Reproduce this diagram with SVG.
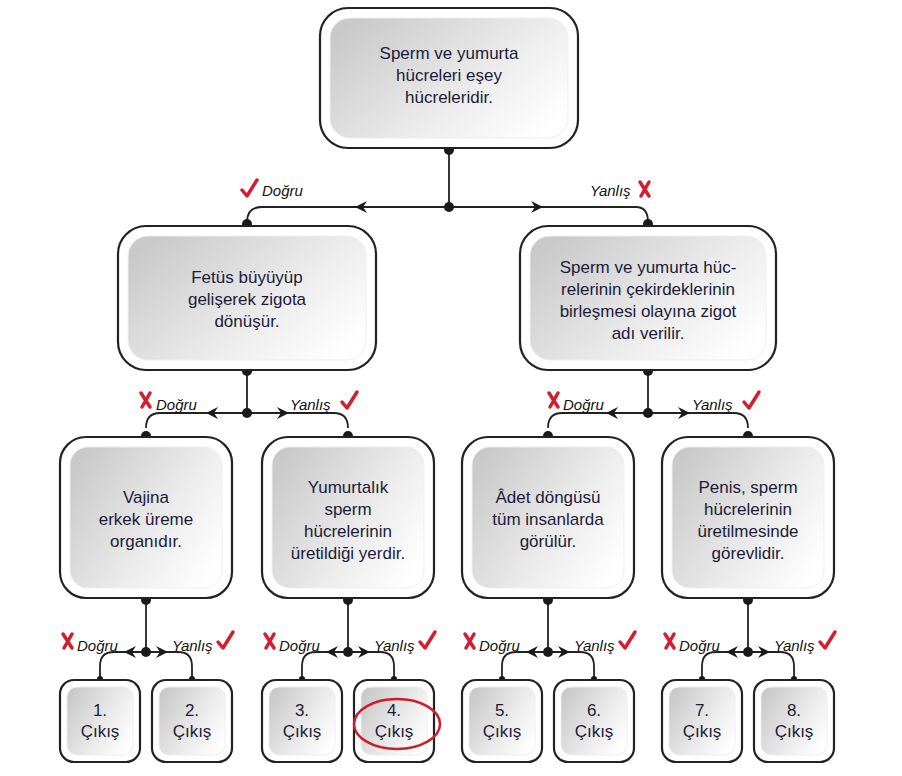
<svg xmlns="http://www.w3.org/2000/svg" width="902" height="776" viewBox="0 0 902 776">
<style>
.o{fill:#fff;stroke:#222;stroke-width:2.2}
.i{fill:url(#g);stroke:#eee;stroke-width:1}
.t{font-family:"Liberation Sans",Arial,sans-serif;font-size:17px;fill:#1c1c3a;text-anchor:middle}
.l{font-family:"Liberation Sans",Arial,sans-serif;font-size:15px;font-style:italic;fill:#111}
.c{fill:none;stroke:#222;stroke-width:1.8}
.d{fill:#1a1a1a}
.ck{fill:none;stroke:#d11f2f;stroke-width:3.5;stroke-linecap:round;stroke-linejoin:round}
</style>
<defs>
<linearGradient id="g" x1="0" y1="0.2" x2="1" y2="0.8"><stop offset="0" stop-color="#c9c9c9"/><stop offset="0.6" stop-color="#ececec"/><stop offset="1" stop-color="#fff"/></linearGradient>
<path id="ar" d="M0,0 L12,-6 L8,0 L12,6 Z" fill="#1a1a1a"/>
<path id="chk" d="M0,6 L5,12 L15,-4" class="ck"/>
<path id="crs" d="M0,-4 L9,10 M9,-4 L1,10" class="ck"/>
</defs>
<g id="connectors">
<path class="c" d="M449,150 V207 M262,207 H636 M262,207 Q247,207 247,222 M636,207 Q648,207 648,222"/>
<use href="#ar" x="355" y="207"/><use href="#ar" transform="translate(543,207) scale(-1,1)"/>
<circle class="d" cx="449" cy="150" r="5"/><circle class="d" cx="449" cy="207" r="5"/>
<circle class="d" cx="247" cy="224" r="5"/><circle class="d" cx="648" cy="224" r="5"/>
<path class="c" d="M247,372 V413 M160,413 H334 Q348,413 348,428 M160,413 Q146,413 146,428"/>
<use href="#ar" x="206" y="413"/><use href="#ar" transform="translate(289,413) scale(-1,1)"/>
<circle class="d" cx="247" cy="371" r="5"/><circle class="d" cx="247" cy="413" r="5"/>
<circle class="d" cx="146" cy="436" r="5"/><circle class="d" cx="348" cy="436" r="5"/>
<path class="c" d="M648,372 V413 M562,413 H734 Q748,413 748,428 M562,413 Q548,413 548,428"/>
<use href="#ar" x="606" y="413"/><use href="#ar" transform="translate(690,413) scale(-1,1)"/>
<circle class="d" cx="648" cy="371" r="5"/><circle class="d" cx="648" cy="413" r="5"/>
<circle class="d" cx="548" cy="436" r="5"/><circle class="d" cx="748" cy="436" r="5"/>
<g id="b1">
<path class="c" d="M146,600 V652 M114,652 H178 Q192,652 192,666 V680 M114,652 Q100,652 100,666 V680"/>
<use href="#ar" x="124" y="652"/><use href="#ar" transform="translate(168,652) scale(-1,1)"/>
<circle class="d" cx="146" cy="600" r="5"/><circle class="d" cx="146" cy="652" r="5"/>
<circle class="d" cx="100" cy="679" r="3"/><circle class="d" cx="192" cy="679" r="3"/>
</g>
<use href="#b1" x="202"/><use href="#b1" x="402"/><use href="#b1" x="602"/>
</g>
<g id="labels">
<use href="#chk" x="242" y="184"/><text class="l" x="262" y="196">Doğru</text>
<text class="l" x="590" y="196">Yanlış</text><use href="#crs" x="640" y="186"/>
<use href="#crs" x="141" y="397"/><text class="l" x="156" y="410">Doğru</text>
<text class="l" x="290" y="410">Yanlış</text><use href="#chk" x="342" y="396"/>
<use href="#crs" x="549" y="397"/><text class="l" x="563" y="410">Doğru</text>
<text class="l" x="692" y="410">Yanlış</text><use href="#chk" x="744" y="396"/>
<g id="l3">
<use href="#crs" x="63" y="638"/><text class="l" x="77" y="651">Doğru</text>
<text class="l" x="172" y="651">Yanlış</text><use href="#chk" x="218" y="636"/>
</g>
<use href="#l3" x="202"/><use href="#l3" x="402"/><use href="#l3" x="602"/>
</g>
<g id="n0"><rect class="o" x="320" y="8" width="258" height="140" rx="28"/><rect class="i" x="330" y="18" width="238" height="120" rx="20"/>
<text class="t" x="449" y="59">Sperm ve yumurta</text><text class="t" x="449" y="81">hücreleri eşey</text><text class="t" x="449" y="103">hücreleridir.</text></g>
<g id="n1"><rect class="o" x="118" y="226" width="258" height="144" rx="28"/><rect class="i" x="128" y="236" width="238" height="124" rx="20"/>
<text class="t" x="247" y="283">Fetüs büyüyüp</text><text class="t" x="247" y="305">gelişerek zigota</text><text class="t" x="247" y="327">dönüşür.</text></g>
<g id="n2"><rect class="o" x="520" y="226" width="256" height="144" rx="28"/><rect class="i" x="530" y="236" width="236" height="124" rx="20"/>
<text class="t" x="648" y="273">Sperm ve yumurta hüc-</text><text class="t" x="648" y="295">relerinin çekirdeklerinin</text><text class="t" x="648" y="317">birleşmesi olayına zigot</text><text class="t" x="648" y="339">adı verilir.</text></g>
<g id="n3"><rect class="o" x="60" y="437" width="172" height="161" rx="26"/><rect class="i" x="70" y="447" width="152" height="141" rx="18"/>
<text class="t" x="146" y="503">Vajina</text><text class="t" x="146" y="525">erkek üreme</text><text class="t" x="146" y="547">organıdır.</text></g>
<g id="n4"><rect class="o" x="262" y="437" width="172" height="161" rx="26"/><rect class="i" x="272" y="447" width="152" height="141" rx="18"/>
<text class="t" x="348" y="493">Yumurtalık</text><text class="t" x="348" y="515">sperm</text><text class="t" x="348" y="537">hücrelerinin</text><text class="t" x="348" y="559">üretildiği yerdir.</text></g>
<g id="n5"><rect class="o" x="462" y="437" width="172" height="161" rx="26"/><rect class="i" x="472" y="447" width="152" height="141" rx="18"/>
<text class="t" x="548" y="503">Âdet döngüsü</text><text class="t" x="548" y="525">tüm insanlarda</text><text class="t" x="548" y="547">görülür.</text></g>
<g id="n6"><rect class="o" x="662" y="437" width="172" height="161" rx="26"/><rect class="i" x="672" y="447" width="152" height="141" rx="18"/>
<text class="t" x="748" y="493">Penis, sperm</text><text class="t" x="748" y="515">hücrelerinin</text><text class="t" x="748" y="537">üretilmesinde</text><text class="t" x="748" y="559">görevlidir.</text></g>
<g id="e1"><rect class="o" x="60" y="680" width="80" height="82" rx="14"/><rect class="i" x="67" y="687" width="66" height="68" rx="10"/><text class="t" x="100" y="716">1.</text><text class="t" x="100" y="737">Çıkış</text></g>
<g id="e2"><rect class="o" x="152" y="680" width="80" height="82" rx="14"/><rect class="i" x="159" y="687" width="66" height="68" rx="10"/><text class="t" x="192" y="716">2.</text><text class="t" x="192" y="737">Çıkış</text></g>
<g id="e3"><rect class="o" x="262" y="680" width="80" height="82" rx="14"/><rect class="i" x="269" y="687" width="66" height="68" rx="10"/><text class="t" x="302" y="716">3.</text><text class="t" x="302" y="737">Çıkış</text></g>
<g id="e4"><rect class="o" x="354" y="680" width="80" height="82" rx="14"/><rect class="i" x="361" y="687" width="66" height="68" rx="10"/><text class="t" x="394" y="716">4.</text><text class="t" x="394" y="737">Çıkış</text>
<ellipse cx="397" cy="724" rx="43" ry="25" fill="none" stroke="#c8202c" stroke-width="2.5"/></g>
<g id="e5"><rect class="o" x="462" y="680" width="80" height="82" rx="14"/><rect class="i" x="469" y="687" width="66" height="68" rx="10"/><text class="t" x="502" y="716">5.</text><text class="t" x="502" y="737">Çıkış</text></g>
<g id="e6"><rect class="o" x="554" y="680" width="80" height="82" rx="14"/><rect class="i" x="561" y="687" width="66" height="68" rx="10"/><text class="t" x="594" y="716">6.</text><text class="t" x="594" y="737">Çıkış</text></g>
<g id="e7"><rect class="o" x="662" y="680" width="80" height="82" rx="14"/><rect class="i" x="669" y="687" width="66" height="68" rx="10"/><text class="t" x="702" y="716">7.</text><text class="t" x="702" y="737">Çıkış</text></g>
<g id="e8"><rect class="o" x="754" y="680" width="80" height="82" rx="14"/><rect class="i" x="761" y="687" width="66" height="68" rx="10"/><text class="t" x="794" y="716">8.</text><text class="t" x="794" y="737">Çıkış</text></g>
</svg>
